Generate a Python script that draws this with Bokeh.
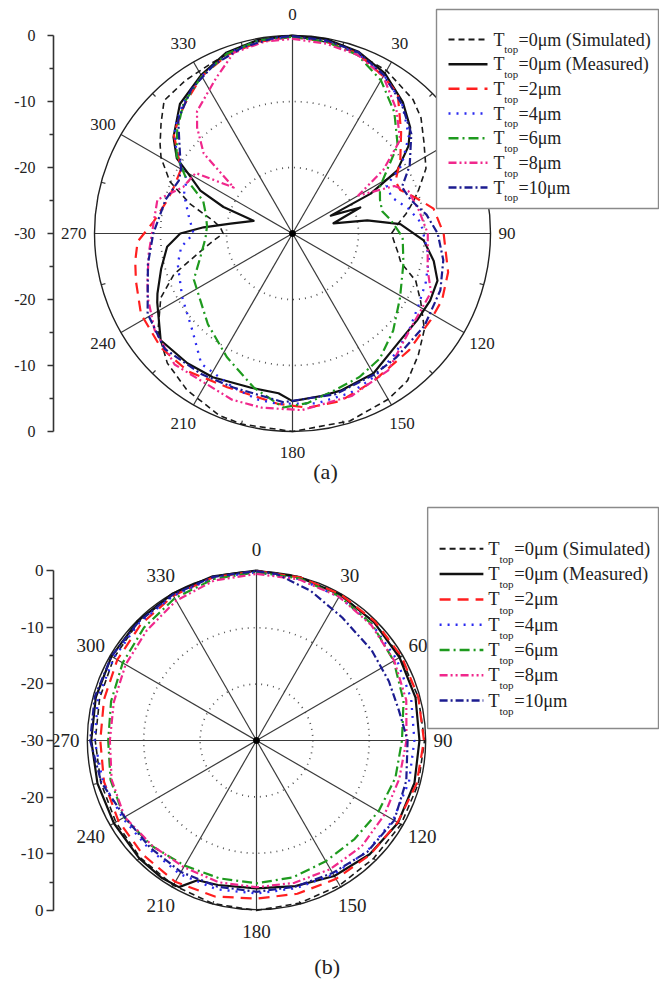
import numpy as np
from bokeh.plotting import figure
from bokeh.models import Range1d, LinearAxis, FixedTicker
from bokeh.layouts import column
from bokeh.embed import file_html
from bokeh.resources import INLINE
from bokeh.core.properties import value

SERIF = "'Liberation Serif', 'Times New Roman', serif"

# ---------------- labels ----------------
SERIES_KEYS = ["sim", "meas", "t2", "t4", "t6", "t8", "t10"]
LEGEND_TEXT = ["=0μm (Simulated)", "=0μm (Measured)", "=2μm", "=4μm", "=6μm", "=8μm", "=10μm"]
AXIS_TICKS = [-30, -20, -10, 0, 10, 20, 30]
AXIS_MINOR = [-25, -15, -5, 5, 15, 25]
AXIS_LABELS = ["0", "-10", "-20", "-30", "-20", "-10", "0"]
ANGLE_TICKS = [0, 30, 60, 90, 120, 150, 180, 210, 240, 270, 300, 330]

# ---------------- data, panel (a) : angle (deg), level (dB) ----------------
A_SIM_ANG = [0, 15, 30, 42, 48, 55, 64, 71, 75, 80, 85, 90, 95, 100, 105, 111, 118, 126, 134, 142,
             150, 163, 180, 195, 202, 214, 224, 234, 244, 251, 259, 265, 270, 275, 279, 286, 293, 300, 304, 310,
             316, 325, 335, 345, 355, 360]
A_SIM_DB = [0, -0.5, -1.5, -2.7, -3.8, -5.7, -7.5, -9.8, -11, -12.5, -14, -15, -14.5, -13.8, -13, -10, -8, -5.3, -3.5, -1.7,
            -1.0, -0.3, 0, -0.1, -0.3, -1.4, -2.7, -4.8, -7.8, -11, -15.8, -18, -19.5, -19, -17.9, -13.9, -9.8, -7, -5.8, -4.0,
            -2.0, -1.7, -1.4, -0.6, -0.1, 0]

A_MEAS_ANG = [0, 10, 20, 30, 40, 48, 53, 59, 63, 65, 69, 76, 80, 85, 93, 101, 108, 116, 125, 135,
              150, 163, 170, 180, 185, 195, 209, 219, 231, 243, 246, 255, 264, 270, 274, 279, 288, 291, 295, 300,
              303, 309, 319, 330, 340, 350, 360]
A_MEAS_DB = [0, -0.1, -0.7, -2.0, -4.0, -6.0, -8.0, -11.5, -16.7, -23.6, -19.0, -23.6, -18.5, -13.6, -10.1, -8.2, -6.9, -6.8, -7.0, -7.0,
             -5.5, -5.1, -5.0, -4.6, -5.7, -5.8, -5.1, -4.7, -4.3, -7.0, -7.6, -9.4, -10.9, -13.0, -16.5, -20.5, -23.8, -18.8, -14.6, -11.7,
             -9.1, -6.8, -4.0, -2.3, -0.8, -0.2, 0]

A_T2_ANG = [0, 10, 20, 30, 37, 47, 56, 63, 68, 74, 80, 90, 104, 114, 122, 135, 151, 164, 175, 185,
            203, 217, 229, 242, 253, 260, 267, 275, 285, 291, 300, 310, 320, 330, 340, 350, 360]
A_T2_DB = [-0.2, -0.5, -1.0, -2.5, -3.5, -7.5, -10.3, -12.5, -12.4, -10.5, -8.3, -7.1, -5.7, -5.2, -5.3, -5.0, -4.5, -3.6, -3.5, -4.1,
           -4.7, -3.8, -3.6, -4.0, -5.2, -5.8, -6.5, -8.9, -10.4, -10.7, -10.5, -6.5, -4.5, -2.5, -1.2, -0.5, -0.2]

A_T4_ANG = [0, 10, 20, 30, 40, 50, 58, 63, 70, 78, 85, 92, 100, 110, 120, 130, 140, 150, 160, 172,
            185, 192, 201, 215, 226, 240, 255, 263, 270, 280, 290, 297, 305, 312, 320, 330, 340, 350, 360]
A_T4_DB = [-0.2, -0.4, -1.0, -2.3, -4.2, -7.0, -10.5, -14, -14, -12, -10.5, -10, -9, -8.5, -8, -7, -6, -5, -4.3, -4.0,
           -4.1, -4.3, -5.0, -5.9, -8.9, -10.7, -12, -13, -15, -14, -12.5, -12, -8.5, -6, -4.2, -2.5, -1.0, -0.3, -0.2]

A_T6_ANG = [0, 10, 20, 30, 40, 50, 56, 62, 69, 76, 82, 92, 105, 121, 134, 145, 155, 166, 175, 183,
            194, 208, 223, 245, 255, 267, 275, 283, 290, 297, 304, 312, 320, 330, 340, 350, 360]
A_T6_DB = [-0.2, -0.5, -1.2, -3.2, -6.0, -9.2, -12.7, -15, -15.8, -16, -15, -13.3, -12.6, -11, -8.8, -6.9, -6.0, -5.3, -4.2, -3.6,
           -5.9, -8.8, -11.2, -13.5, -15.5, -16.8, -17, -16.5, -15.6, -12, -8.8, -6.5, -4.3, -2.5, -1.0, -0.3, -0.2]

A_T8_ANG = [0, 10, 20, 30, 40, 49, 55, 60, 65, 70, 80, 90, 105, 113, 128, 145, 160, 177, 190, 200,
            222, 235, 246, 252, 262, 272, 284, 293, 302, 308, 312, 318, 322, 334, 342, 352, 360]
A_T8_DB = [-0.5, -0.8, -1.2, -2.5, -5.5, -8.4, -13.2, -18.5, -13, -11.3, -10.5, -9.5, -8.8, -7.2, -7.1, -4.7, -3.8, -3.2, -3.2, -3.2,
           -3.3, -4.5, -6.0, -6.9, -8.0, -8.8, -8.9, -12, -12.7, -18.7, -11.9, -8.4, -6.5, -3.7, -1.2, -0.6, -0.5]

A_T10_ANG = [0, 10, 20, 30, 40, 50, 60, 67, 74, 82, 90, 100, 111, 125, 140, 150, 165, 183, 201, 213,
             228, 241, 258, 270, 285, 295, 300, 306, 315, 325, 335, 345, 355, 360]
A_T10_DB = [-0.1, -0.3, -0.8, -2.3, -4.3, -6.5, -9.5, -12, -11.4, -9.5, -8.0, -6.8, -6.0, -5.6, -5.5, -5.3, -4.8, -4.4, -5.0, -4.6,
            -3.9, -4.9, -7.6, -8.9, -10.1, -11, -10.5, -8.9, -5.5, -3.3, -1.8, -0.8, -0.2, -0.1]

# ---------------- data, panel (b) ----------------
B_ANG = [0, 15, 30, 45, 60, 75, 90, 105, 120, 135, 150, 165, 180, 195, 210, 225, 240, 255, 270, 285, 300, 315, 330, 345, 360]
B_SIM_DB = [0, -0.1, -0.3, -0.5, -0.5, -0.3, -0.2, -0.3, -0.4, -0.6, -0.5, -0.3, 0, -0.2, -0.5, -0.8, -1.2, -1.4, -1.4, -1.2, -0.8, -0.4, -0.2, -0.1, 0]
B_T2_DB = [-0.1, -0.2, -0.2, -0.3, -0.3, -0.3, -0.3, -0.6, -1.1, -1.5, -1.8, -2.0, -2.1, -1.5, -1.2, -1.5, -1.7, -2.0, -2.3, -2.0, -1.5, -1.0, -0.5, -0.2, -0.1]
B_T4_DB = [-0.3, -0.5, -0.7, -1.0, -1.3, -1.6, -2.0, -2.0, -2.0, -2.3, -2.7, -3.0, -3.0, -2.8, -2.8, -3.0, -2.6, -1.8, -1.3, -0.9, -0.8, -0.6, -0.5, -0.3, -0.3]
B_T6_DB = [-0.3, -0.4, -0.6, -1.0, -1.9, -3.0, -4.2, -4.5, -5.0, -5.4, -5.4, -5.0, -4.8, -4.8, -4.5, -3.7, -2.9, -3.2, -3.7, -3.3, -2.6, -1.8, -1.0, -0.5, -0.3]
B_T8_DB = [-0.6, -0.6, -0.7, -1.2, -1.8, -2.5, -3.4, -3.8, -3.8, -3.6, -3.8, -4.0, -4.1, -4.1, -4.2, -3.8, -3.0, -3.4, -4.0, -3.8, -3.2, -2.5, -1.5, -0.8, -0.6]

B_MEAS_ANG = [0, 15, 30, 45, 60, 75, 90, 105, 120, 135, 150, 165, 180, 195, 203, 208, 215, 225, 240, 255, 270, 285, 300, 315, 330, 345, 360]
B_MEAS_DB = [0, -0.2, -0.3, -0.5, -0.7, -0.8, -1.1, -1.0, -1.0, -1.6, -2.4, -3.4, -3.9, -3.6, -3.2, -0.7, -0.5, -0.6, -0.8, -0.8, -0.7, -0.5, -0.3, -0.2, -0.1, 0, 0]

B_T10_ANG = [0, 7, 20, 35, 52, 66, 78, 90, 105, 120, 135, 150, 165, 180, 195, 210, 225, 240, 255, 270, 285, 300, 315, 330, 345, 360]
B_T10_DB = [-0.1, -0.4, -1.9, -3.5, -4.1, -4.3, -4.2, -3.2, -2.5, -1.8, -2.2, -3.0, -3.3, -3.3, -3.3, -3.2, -3.3, -3.0, -1.5, -0.5, -0.3, -0.3, -0.4, -0.3, -0.1, -0.1]

CURVES_A = {
    "sim": (A_SIM_ANG, A_SIM_DB), "meas": (A_MEAS_ANG, A_MEAS_DB), "t2": (A_T2_ANG, A_T2_DB),
    "t4": (A_T4_ANG, A_T4_DB), "t6": (A_T6_ANG, A_T6_DB), "t8": (A_T8_ANG, A_T8_DB), "t10": (A_T10_ANG, A_T10_DB),
}
CURVES_B = {
    "sim": (B_ANG, B_SIM_DB), "meas": (B_MEAS_ANG, B_MEAS_DB), "t2": (B_ANG, B_T2_DB),
    "t4": (B_ANG, B_T4_DB), "t6": (B_ANG, B_T6_DB), "t8": (B_ANG, B_T8_DB), "t10": (B_T10_ANG, B_T10_DB),
}

STYLES = {
    "sim": dict(line_color="#1a1a1a", line_width=1.6, line_dash="6 4"),
    "meas": dict(line_color="#111111", line_width=2.2, line_dash="solid"),
    "t2": dict(line_color="#ff1f1f", line_width=2.2, line_dash="11 7"),
    "t4": dict(line_color="#2a2af0", line_width=2.3, line_dash="2 6"),
    "t6": dict(line_color="#1e9a1e", line_width=2.2, line_dash="10 4 2 4"),
    "t8": dict(line_color="#f0288c", line_width=2.2, line_dash="8 3 2 3 2 3"),
    "t10": dict(line_color="#1c1c90", line_width=2.2, line_dash="8 3 2 3"),
}

FIG_W = 659
PAGE_LEFT = 0


def polar_xy(ang, db):
    th = np.radians(np.asarray(ang, dtype=float))
    r = np.clip(np.asarray(db, dtype=float) + 30.0, 0, None)
    return r * np.sin(th), r * np.cos(th)


def build_panel(cfg, curves):
    s = cfg["R"] / 30.0
    cx, cy = cfg["cx"], cfg["cy"]
    top, h = cfg["top"], cfg["h"]

    def X(px):
        return (px - cx) / s

    def Y(py):
        return (cy - py) / s

    p = figure(width=FIG_W, height=h,
               x_range=Range1d(X(cfg["frame_left"]), X(PAGE_LEFT + FIG_W)),
               y_range=Range1d(Y(top + h), Y(top)),
               x_axis_type=None, y_axis_type=None,
               toolbar_location=None, output_backend="svg",
               min_border_left=cfg["frame_left"] - PAGE_LEFT, min_border_right=0,
               min_border_top=0, min_border_bottom=0)
    p.outline_line_color = None
    p.background_fill_color = "white"

    ax = LinearAxis(ticker=FixedTicker(ticks=AXIS_TICKS, minor_ticks=AXIS_MINOR),
                    major_label_overrides={t: l for t, l in zip(AXIS_TICKS, AXIS_LABELS)})
    ax.bounds = (-30, 30)
    ax.axis_line_color = "#333333"
    ax.axis_line_width = 1.6
    ax.major_tick_line_color = "#333333"
    ax.major_tick_line_width = 1.6
    ax.minor_tick_line_color = "#333333"
    ax.minor_tick_line_width = 1.4
    ax.major_tick_in = 0
    ax.major_tick_out = cfg["tick_out"]
    ax.minor_tick_in = 0
    ax.minor_tick_out = 4
    ax.major_label_standoff = cfg["standoff"]
    ax.major_label_text_font = SERIF
    ax.major_label_text_font_size = f"{cfg['fs_tick']}px"
    ax.major_label_text_color = "#222222"
    p.add_layout(ax, "left")

    # polar grid
    p.circle(x=[0, 0], y=[0, 0], radius=[10, 20], fill_color=None,
             line_color="#555555", line_dash="1 5", line_width=1.7)
    th = np.radians(np.arange(0, 360, 30))
    p.segment(x0=0, y0=0, x1=30 * np.sin(th), y1=30 * np.cos(th),
              line_color="#3a3a3a", line_width=1.2)
    tm = np.radians(np.arange(15, 360, 30))
    p.segment(x0=29.35 * np.sin(tm), y0=29.35 * np.cos(tm), x1=30 * np.sin(tm), y1=30 * np.cos(tm),
              line_color="#3a3a3a", line_width=1.2)
    p.circle(x=[0], y=[0], radius=[30], fill_color=None, line_color="#222222", line_width=1.4)

    # curves
    for key in SERIES_KEYS:
        ang, db = curves[key]
        xs, ys = polar_xy(ang, db)
        p.line(xs, ys, line_join="round", **STYLES[key])

    p.scatter(x=[0], y=[0], size=6, color="black")

    # angle labels
    fsA = cfg["fs_ang"]
    lx, ly, lt = [], [], []
    for a in ANGLE_TICKS:
        if a in cfg["skip"]:
            continue
        t = np.radians(a)
        txt = str(a)
        w = len(txt) * 0.5 * fsA
        dxp = 17 * np.sin(t) + np.sin(t) * (w / 2 - 9)
        dyp = 21 * np.cos(t)
        lx.append(30 * np.sin(t) + dxp / s)
        ly.append(30 * np.cos(t) + dyp / s)
        lt.append(txt)
    p.text(x=lx, y=ly, text=lt, text_font=value(SERIF), text_font_size=f"{fsA}px",
           text_align="center", text_baseline="middle", text_color="#222222")

    # legend (drawn by hand so that the subscript can be shown)
    bx0, by0, bx1, by1 = cfg["box"]
    p.quad(left=X(bx0), right=X(bx1), top=Y(by0), bottom=Y(by1),
           fill_color="white", line_color="#8a8a8a", line_width=1.4)
    tx, ty, sx, sy, ex, ey = [], [], [], [], [], []
    for i, key in enumerate(SERIES_KEYS):
        ry = cfg["row0"] + i * cfg["row_dy"]
        st = dict(STYLES[key])
        st["line_width"] = st["line_width"] + 0.3
        p.line([X(cfg["sx0"]), X(cfg["sx1"])], [Y(ry), Y(ry)], **st)
        tx.append(X(cfg["T_x"]))
        ty.append(Y(ry))
        sx.append(X(cfg["T_x"] + cfg["fs_leg"] * 0.6))
        sy.append(Y(ry + cfg["fs_leg"] * 0.55))
        ex.append(X(cfg["eq_x"]))
        ey.append(Y(ry))
    fsL = cfg["fs_leg"]
    p.text(x=tx, y=ty, text=["T"] * len(tx), text_font=value(SERIF), text_font_size=f"{fsL}px",
           text_align="left", text_baseline="middle", text_color="#222222")
    p.text(x=sx, y=sy, text=["top"] * len(sx), text_font=value(SERIF), text_font_size=f"{fsL * 0.6:.1f}px",
           text_align="left", text_baseline="middle", text_color="#222222")
    p.text(x=ex, y=ey, text=LEGEND_TEXT, text_font=value(SERIF), text_font_size=f"{fsL}px",
           text_align="left", text_baseline="middle", text_color="#222222")

    # caption
    cxp, cyp = cfg["caption_xy"]
    p.text(x=[X(cxp)], y=[Y(cyp)], text=[cfg["caption"]], text_font=value(SERIF),
           text_font_size="22px", text_align="center", text_baseline="middle", text_color="#222222")
    return p


CFG_A = dict(top=0, h=490, frame_left=53, cx=292, cy=233, R=198,
             fs_tick=16, fs_ang=17, fs_leg=18, tick_out=6, standoff=12,
             skip={60}, box=(436, 9, 658, 208), row0=39, row_dy=24.67,
             sx0=448, sx1=487, T_x=493, eq_x=518, caption="(a)", caption_xy=(325, 471))
CFG_B = dict(top=490, h=492, frame_left=50, cx=254, cy=740, R=170,
             fs_tick=17, fs_ang=19, fs_leg=18.5, tick_out=7, standoff=3,
             skip=set(), box=(426, 507, 658, 728), row0=548.3, row_dy=25.3,
             sx0=438, sx1=482, T_x=487, eq_x=513, caption="(b)", caption_xy=(325, 966))

pa = build_panel(CFG_A, CURVES_A)
pb = build_panel(CFG_B, CURVES_B)
layout = column(pa, pb)

open("out.html", "w").write(file_html(layout, INLINE))
